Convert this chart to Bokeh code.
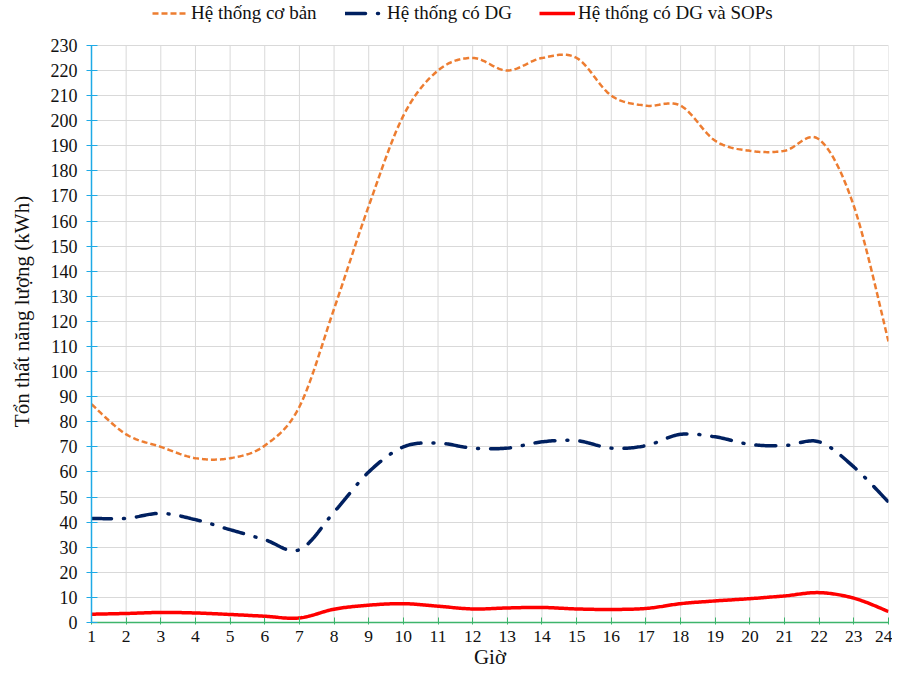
import numpy as np
from bokeh.plotting import figure
from bokeh.models import Legend, LegendItem, Range1d, FixedTicker
from bokeh.embed import file_html
from bokeh.resources import INLINE

hours = list(range(1, 25))
base_loss = [87, 75, 70, 65.5, 65.5, 70.5, 86, 125, 166, 202, 220, 225,
             220, 225, 225, 210, 206, 206, 192, 188, 188, 192.5, 166, 112]
dg_loss = [41.5, 41.5, 43.5, 41, 37, 33, 29, 44, 60, 70, 71.5, 69.5,
           69.5, 72, 72.5, 69.5, 70.5, 75, 74, 71, 70.5, 72, 62, 48]
sop_loss = [3.3, 3.6, 4.0, 3.8, 3.2, 2.5, 1.8, 5.3, 6.9, 7.5, 6.5, 5.4,
            5.8, 6.0, 5.4, 5.2, 5.6, 7.5, 8.6, 9.5, 10.6, 11.9, 9.7, 4.4]
series_names = ["Hệ thống cơ bản", "Hệ thống có DG", "Hệ thống có DG và SOPs"]
y_ticks = list(range(0, 231, 10))
y_max = 230

FONT = "Liberation Serif"

# layout in pixels
W, H = 892, 671
BORDER_L, BORDER_R, BORDER_B = 91, 4, 48
PLOT_TOP = 45  # pixel where y_max sits; legend lives above it
frame_h = H - BORDER_B
y_end = y_max * frame_h / (frame_h - PLOT_TOP)


def smooth(xs, ys, n=24):
    """Catmull-Rom style smoothing (like spreadsheet smoothed lines)."""
    xs = np.asarray(xs, float)
    ys = np.asarray(ys, float)
    px = np.concatenate([[xs[0]], xs, [xs[-1]]])
    py = np.concatenate([[ys[0]], ys, [ys[-1]]])
    ox, oy = [], []
    for i in range(1, len(px) - 2):
        p0 = np.array([px[i], py[i]])
        p3 = np.array([px[i + 1], py[i + 1]])
        c1 = p0 + (np.array([px[i + 1], py[i + 1]]) - np.array([px[i - 1], py[i - 1]])) / 6.0
        c2 = p3 - (np.array([px[i + 2], py[i + 2]]) - np.array([px[i], py[i]])) / 6.0
        t = np.linspace(0, 1, n, endpoint=(i == len(px) - 3))
        pts = ((1 - t) ** 3)[:, None] * p0 + (3 * (1 - t) ** 2 * t)[:, None] * c1 \
            + (3 * (1 - t) * t ** 2)[:, None] * c2 + (t ** 3)[:, None] * p3
        ox.extend(pts[:, 0])
        oy.extend(pts[:, 1])
    return ox, oy


p = figure(width=W, height=H, output_backend="svg", toolbar_location=None,
           x_range=Range1d(hours[0], hours[-1]), y_range=Range1d(0, y_end),
           min_border_left=BORDER_L, min_border_right=BORDER_R, min_border_top=0,
           min_border_bottom=BORDER_B)
p.outline_line_color = None
p.background_fill_color = "white"
p.border_fill_color = "white"

# grid: vertical lines only up to y_max, horizontal at ticks
p.xgrid.visible = False
p.segment(x0=hours, y0=[0] * len(hours), x1=hours, y1=[y_max] * len(hours),
          line_color="#D9D9D9", line_width=1)
p.ygrid.ticker = FixedTicker(ticks=y_ticks)
p.ygrid.grid_line_color = "#D9D9D9"
p.ygrid.grid_line_width = 1

p.xaxis.ticker = FixedTicker(ticks=hours)
p.yaxis.ticker = FixedTicker(ticks=y_ticks)
p.yaxis.bounds = (0, y_max)
p.xaxis.minor_tick_line_color = None
p.yaxis.minor_tick_line_color = None

p.xaxis.axis_line_color = "#3DB56B"
p.xaxis.major_tick_line_color = "#3DB56B"
p.xaxis.major_tick_in = 5
p.xaxis.major_tick_out = 2
p.yaxis.axis_line_color = "#1EAAE6"
p.yaxis.major_tick_line_color = "#1EAAE6"
p.yaxis.major_tick_in = 6
p.yaxis.major_tick_out = 5
p.xaxis.axis_line_width = 1.5
p.yaxis.axis_line_width = 1.5

for ax in (p.xaxis, p.yaxis):
    ax.major_label_text_font = FONT
    ax.major_label_text_color = "#111111"
    ax.axis_label_text_font = FONT
    ax.axis_label_text_font_style = "normal"
    ax.axis_label_text_color = "#111111"

p.xaxis.major_label_text_font_size = "17.5px"
p.yaxis.major_label_text_font_size = "18px"
p.xaxis.axis_label_text_font_size = "21px"
p.yaxis.axis_label_text_font_size = "21px"

p.xaxis.axis_label = "Giờ"
p.yaxis.axis_label = "Tổn thất năng lượng (kWh)"
p.xaxis.major_label_standoff = 6
p.yaxis.major_label_standoff = 9
p.xaxis.axis_label_standoff = 0
p.yaxis.axis_label_standoff = 14

bx, by = smooth(hours, base_loss)
dx, dy = smooth(hours, dg_loss)
sx, sy = smooth(hours, sop_loss)

r_base = p.line(bx, by, line_color="#ED7D31", line_width=2.5, line_dash="6 3")
r_dg = p.line(dx, dy, line_color="#002060", line_width=3.5, line_dash="20 12 1 12",
              line_cap="round")
r_sop = p.line(sx, sy, line_color="#FF0000", line_width=3.5)

# one legend per series so that each entry sits where the reference has it
legend_specs = [(r_base, 152 - BORDER_L, 3), (r_dg, 345 - BORDER_L, 6),
                (r_sop, 539 - BORDER_L, 3)]
for name, (rend, lx, standoff) in zip(series_names, legend_specs):
    lg = Legend(items=[LegendItem(label=name, renderers=[rend])],
                orientation="horizontal", location=(lx, frame_h - 25),
                label_text_font=FONT, label_text_font_size="19px",
                label_text_color="#111111", label_height=22,
                glyph_width=36, glyph_height=18, label_standoff=standoff,
                padding=0, margin=0, border_line_color=None,
                background_fill_alpha=0)
    p.add_layout(lg, "center")

open("out.html", "w").write(file_html(p, INLINE))
